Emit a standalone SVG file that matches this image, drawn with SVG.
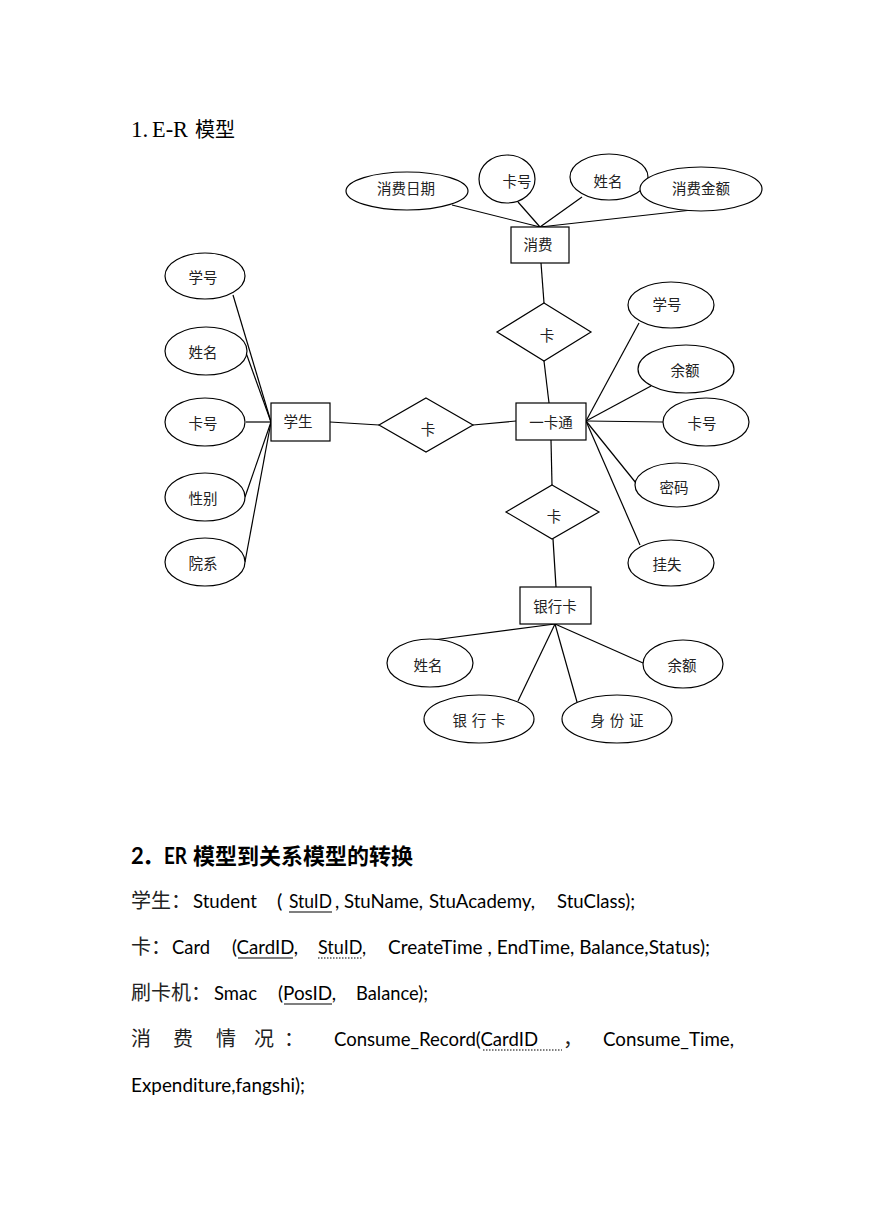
<svg xmlns="http://www.w3.org/2000/svg" width="869" height="1228" viewBox="0 0 869 1228">
<style>
.bg{fill:#fff}
.conn line{stroke:#000;stroke-width:1.2}
.n ellipse,.n rect,.n polygon{fill:#fff;stroke:#000;stroke-width:1.2}
.lbl{font-family:"Noto Sans CJK SC",sans-serif;font-size:14.5px;fill:#222;text-anchor:middle;dominant-baseline:central}
.body{font-family:"Lato","Noto Sans CJK SC",sans-serif;font-size:20px;fill:#000}
.cjk{font-family:"Noto Sans CJK SC",sans-serif;font-size:20px;fill:#222}
.ul{stroke:#000;stroke-width:1.2}
.dot{stroke:#000;stroke-width:1.2;stroke-dasharray:1.5 1.5}
</style>
<rect class="bg" x="0" y="0" width="869" height="1228"/>

<g id="title1">
<text x="131" y="137" font-family="Liberation Serif,serif" font-size="23" fill="#000">1.</text>
<text x="152" y="137" font-family="Liberation Serif,serif" font-size="23" fill="#000" textLength="36" lengthAdjust="spacingAndGlyphs">E-R</text>
<text x="195" y="137" font-family="Noto Sans CJK SC,sans-serif" font-size="20" fill="#000">模型</text>
</g>

<g id="connectors" class="conn">
<line x1="540" y1="227" x2="452" y2="205"/>
<line x1="540" y1="227" x2="518" y2="202"/>
<line x1="540" y1="227" x2="582" y2="197"/>
<line x1="540" y1="227" x2="692" y2="210"/>
<line x1="541" y1="263" x2="544" y2="303"/>
<line x1="544" y1="361" x2="549" y2="403"/>
<line x1="551" y1="440" x2="552" y2="485"/>
<line x1="553" y1="539" x2="556" y2="587"/>
<line x1="330" y1="422" x2="379" y2="425"/>
<line x1="473" y1="425" x2="516" y2="421"/>
<line x1="586" y1="421" x2="639" y2="323"/>
<line x1="586" y1="421" x2="651" y2="386"/>
<line x1="586" y1="421" x2="663" y2="422"/>
<line x1="586" y1="421" x2="636" y2="483"/>
<line x1="586" y1="421" x2="640" y2="545"/>
<line x1="271" y1="422" x2="233" y2="295"/>
<line x1="271" y1="422" x2="245" y2="350"/>
<line x1="271" y1="422" x2="246" y2="422"/>
<line x1="271" y1="422" x2="245" y2="497"/>
<line x1="271" y1="422" x2="245" y2="562"/>
<line x1="555" y1="624" x2="433" y2="640"/>
<line x1="555" y1="624" x2="518" y2="701"/>
<line x1="555" y1="624" x2="577" y2="702"/>
<line x1="555" y1="624" x2="643" y2="663"/>
</g>

<g id="attr-xfrq" class="n"><ellipse cx="407" cy="191" rx="61" ry="19"/><text class="lbl" x="406" y="187">消费日期</text></g>
<g id="attr-xf-kh" class="n"><ellipse cx="507" cy="179" rx="28" ry="24"/><text class="lbl" x="517" y="180">卡号</text></g>
<g id="attr-xf-xm" class="n"><ellipse cx="609" cy="177" rx="39" ry="23"/><text class="lbl" x="608" y="180">姓名</text></g>
<g id="attr-xfje" class="n"><ellipse cx="701" cy="189" rx="61" ry="22"/><text class="lbl" x="701" y="187">消费金额</text></g>
<g id="ent-xf" class="n"><rect x="511" y="227" width="58" height="36"/><text class="lbl" x="538" y="243">消费</text></g>

<g id="rel-1" class="n"><polygon points="544,303 591,332 544,361 497,332"/><text class="lbl" x="547" y="334">卡</text></g>
<g id="ent-ykt" class="n"><rect x="516" y="403" width="70" height="37"/><text class="lbl" x="551" y="421">一卡通</text></g>
<g id="rel-2" class="n"><polygon points="552,485 599,512 552,539 506,512"/><text class="lbl" x="554" y="515">卡</text></g>
<g id="rel-3" class="n"><polygon points="426,398 473,425 426,452 379,425"/><text class="lbl" x="428" y="428">卡</text></g>

<g id="attr-r-xh" class="n"><ellipse cx="671" cy="305" rx="43" ry="23"/><text class="lbl" x="667" y="303">学号</text></g>
<g id="attr-r-ye" class="n"><ellipse cx="686" cy="369" rx="48" ry="24"/><text class="lbl" x="685" y="369">余额</text></g>
<g id="attr-r-kh" class="n"><ellipse cx="706" cy="422" rx="43" ry="24"/><text class="lbl" x="702" y="422">卡号</text></g>
<g id="attr-r-mm" class="n"><ellipse cx="677" cy="485" rx="42" ry="22"/><text class="lbl" x="674" y="486">密码</text></g>
<g id="attr-r-gs" class="n"><ellipse cx="671" cy="563" rx="43" ry="23"/><text class="lbl" x="667" y="563">挂失</text></g>

<g id="ent-xs" class="n"><rect x="271" y="403" width="59" height="38"/><text class="lbl" x="298" y="420">学生</text></g>
<g id="attr-l-xh" class="n"><ellipse cx="205" cy="276" rx="40" ry="23"/><text class="lbl" x="203" y="276">学号</text></g>
<g id="attr-l-xm" class="n"><ellipse cx="206" cy="351" rx="41" ry="24"/><text class="lbl" x="203" y="351">姓名</text></g>
<g id="attr-l-kh" class="n"><ellipse cx="205" cy="422" rx="40" ry="24"/><text class="lbl" x="203" y="422">卡号</text></g>
<g id="attr-l-xb" class="n"><ellipse cx="205" cy="497" rx="40" ry="24"/><text class="lbl" x="203" y="497">性别</text></g>
<g id="attr-l-yx" class="n"><ellipse cx="205" cy="562" rx="40" ry="24"/><text class="lbl" x="203" y="562">院系</text></g>

<g id="ent-yhk" class="n"><rect x="520" y="587" width="71" height="37"/><text class="lbl" x="555" y="605">银行卡</text></g>
<g id="attr-b-xm" class="n"><ellipse cx="430" cy="663" rx="43" ry="24"/><text class="lbl" x="428" y="664">姓名</text></g>
<g id="attr-b-yhk" class="n"><ellipse cx="479" cy="719" rx="55" ry="24"/><text class="lbl" x="479" y="719" textLength="53">银 行 卡</text></g>
<g id="attr-b-sfz" class="n"><ellipse cx="617" cy="719" rx="55" ry="24"/><text class="lbl" x="617" y="719" textLength="53">身 份 证</text></g>
<g id="attr-b-ye" class="n"><ellipse cx="683" cy="664" rx="40" ry="24"/><text class="lbl" x="682" y="664">余额</text></g>

<g id="section2">
<text x="131" y="864" font-family="Lato,sans-serif" font-weight="bold" font-size="22" fill="#000">2</text>
<text x="142" y="864" font-family="Noto Sans CJK SC,sans-serif" font-weight="bold" font-size="22" fill="#000">．</text>
<text x="164" y="864" font-family="Lato,sans-serif" font-weight="bold" font-size="22" fill="#000" textLength="23" lengthAdjust="spacingAndGlyphs">ER</text>
<text x="193" y="864" font-family="Noto Sans CJK SC,sans-serif" font-weight="bold" font-size="22" fill="#000">模型到关系模型的转换</text>

<text class="cjk" x="131" y="908">学生：</text>
<text class="body" x="193" y="908" textLength="64" lengthAdjust="spacingAndGlyphs">Student</text>
<text class="body" x="277" y="908">(</text>
<text class="body" x="289" y="908" textLength="43" lengthAdjust="spacingAndGlyphs">StuID</text>
<line class="ul" x1="289" y1="912" x2="332" y2="912"/>
<text class="body" x="335" y="908" textLength="88" lengthAdjust="spacingAndGlyphs">, StuName,</text>
<text class="body" x="429" y="908" textLength="106" lengthAdjust="spacingAndGlyphs">StuAcademy,</text>
<text class="body" x="557" y="908" textLength="78" lengthAdjust="spacingAndGlyphs">StuClass);</text>

<text class="cjk" x="131" y="954">卡：</text>
<text class="body" x="172" y="954" textLength="38" lengthAdjust="spacingAndGlyphs">Card</text>
<text class="body" x="232" y="954" textLength="66" lengthAdjust="spacingAndGlyphs">(CardID,</text>
<line class="ul" x1="238" y1="958" x2="293" y2="958"/>
<text class="body" x="318" y="954" textLength="48" lengthAdjust="spacingAndGlyphs">StuID,</text>
<line class="dot" x1="318" y1="958" x2="362" y2="958"/>
<text class="body" x="388" y="954" textLength="322" lengthAdjust="spacingAndGlyphs">CreateTime , EndTime, Balance,Status);</text>

<text class="cjk" x="131" y="1000">刷卡机：</text>
<text class="body" x="214" y="1000" textLength="43" lengthAdjust="spacingAndGlyphs">Smac</text>
<text class="body" x="278" y="1000" textLength="58" lengthAdjust="spacingAndGlyphs">(PosID,</text>
<line class="ul" x1="284" y1="1004" x2="332" y2="1004"/>
<text class="body" x="356" y="1000" textLength="72" lengthAdjust="spacingAndGlyphs">Balance);</text>

<text class="cjk" x="131" y="1046">消</text>
<text class="cjk" x="173" y="1046">费</text>
<text class="cjk" x="216" y="1046">情</text>
<text class="cjk" x="254" y="1046">况</text>
<text class="cjk" x="284" y="1046">：</text>
<text class="body" x="334" y="1046" textLength="204" lengthAdjust="spacingAndGlyphs">Consume_Record(CardID</text>
<line class="dot" x1="483" y1="1050" x2="562" y2="1050"/>
<text class="cjk" x="563" y="1046">，</text>
<text class="body" x="603" y="1046" textLength="131" lengthAdjust="spacingAndGlyphs">Consume_Time,</text>

<text class="body" x="131" y="1092" textLength="174" lengthAdjust="spacingAndGlyphs">Expenditure,fangshi);</text>
</g>
</svg>
